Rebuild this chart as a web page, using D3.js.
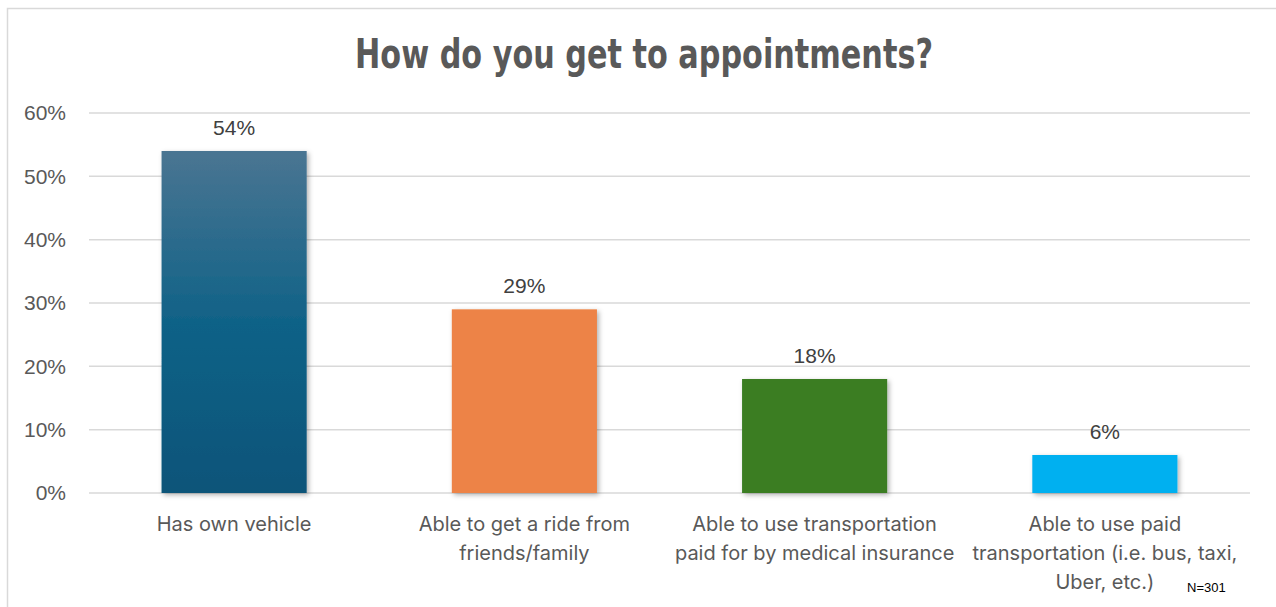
<!DOCTYPE html>
<html>
<head>
<meta charset="utf-8">
<script src="https://cdn.jsdelivr.net/npm/d3@7"></script>
<style>
  html, body { margin: 0; padding: 0; background: #fff; }
  svg { display: block; }
</style>
</head>
<body>
<svg id="chart" width="1276" height="607"></svg>
<script>
// Survey responses: how respondents get to appointments
const categories = [
  ["Has own vehicle"],
  ["Able to get a ride from", "friends/family"],
  ["Able to use transportation", "paid for by medical insurance"],
  ["Able to use paid", "transportation (i.e. bus, taxi,", "Uber, etc.)"]
];
const shares = [54, 29, 18, 6];
const barColors = ["url(#blueGrad)", "#ed8346", "#3b7d23", "#00b0f0"];
const yTicks = [0, 10, 20, 30, 40, 50, 60];
const titleText = "How do you get to appointments?";
const noteText = "N=301";

const W = 1276, H = 607;
const margin = { left: 89, right: 26, top: 113, bottom: 114 };
const svg = d3.select("#chart");

const defs = svg.append("defs");
const grad = defs.append("linearGradient")
  .attr("id", "blueGrad").attr("x1", 0).attr("y1", 0).attr("x2", 0).attr("y2", 1);
grad.append("stop").attr("offset", "0%").attr("stop-color", "#4a7592");
grad.append("stop").attr("offset", "50%").attr("stop-color", "#106287");
grad.append("stop").attr("offset", "100%").attr("stop-color", "#0a5479");

const shadow = defs.append("filter").attr("id", "barShadow")
  .attr("x", "-10%").attr("y", "-10%").attr("width", "130%").attr("height", "130%");
shadow.append("feDropShadow")
  .attr("dx", 2).attr("dy", 2).attr("stdDeviation", 2.5)
  .attr("flood-color", "#000").attr("flood-opacity", 0.3);

// Chart frame
svg.append("rect")
  .attr("x", 7.5).attr("y", 8.5).attr("width", W).attr("height", H)
  .attr("fill", "#fff").attr("stroke", "#d9d9d9").attr("stroke-width", 1.5);

const x = d3.scaleBand()
  .domain(d3.range(categories.length))
  .range([margin.left, W - margin.right])
  .paddingInner(0.5).paddingOuter(0.25);

const y = d3.scaleLinear()
  .domain([0, 60])
  .range([H - margin.bottom, margin.top]);

// Gridlines
svg.append("g")
  .selectAll("line").data(yTicks).join("line")
  .attr("x1", margin.left).attr("x2", W - margin.right)
  .attr("y1", d => y(d)).attr("y2", d => y(d))
  .attr("stroke", "#d9d9d9").attr("stroke-width", 1.5);

// Y axis labels
const yAxis = d3.axisLeft(y).tickValues(yTicks).tickFormat(d => d + "%").tickSize(0).tickPadding(23);
const yg = svg.append("g").attr("transform", `translate(${margin.left},0)`).call(yAxis);
yg.select(".domain").remove();
yg.selectAll("text")
  .attr("font-family", "'Liberation Sans', Arial, sans-serif")
  .attr("font-size", 21).attr("fill", "#595959");

// Bars
svg.append("g")
  .selectAll("rect").data(shares).join("rect")
  .attr("x", (d, i) => x(i))
  .attr("y", d => y(d))
  .attr("width", x.bandwidth())
  .attr("height", d => y(0) - y(d))
  .attr("fill", (d, i) => barColors[i])
  .attr("filter", "url(#barShadow)");

// Value labels
svg.append("g")
  .selectAll("text").data(shares).join("text")
  .attr("x", (d, i) => x(i) + x.bandwidth() / 2)
  .attr("y", d => y(d) - 16)
  .attr("text-anchor", "middle")
  .attr("font-family", "'Liberation Sans', Arial, sans-serif")
  .attr("font-size", 21).attr("fill", "#404040")
  .text(d => d + "%");

// Category labels
const catG = svg.append("g");
categories.forEach((lines, i) => {
  const t = catG.append("text")
    .attr("x", x(i) + x.bandwidth() / 2)
    .attr("y", 531)
    .attr("text-anchor", "middle")
    .attr("font-family", "Inter, 'Noto Sans', sans-serif")
    .attr("font-size", 20).attr("fill", "#595959");
  lines.forEach((ln, j) => {
    t.append("tspan")
      .attr("x", x(i) + x.bandwidth() / 2)
      .attr("dy", j === 0 ? 0 : 29)
      .text(ln);
  });
});

// Title
svg.append("text")
  .attr("x", 644).attr("y", 68)
  .attr("text-anchor", "middle")
  .attr("font-family", "'DejaVu Sans Condensed', 'DejaVu Sans', sans-serif")
  .attr("font-weight", "bold")
  .attr("font-size", 40).attr("fill", "#595959")
  .attr("textLength", 578).attr("lengthAdjust", "spacingAndGlyphs")
  .text(titleText);

// Sample size note
svg.append("text")
  .attr("x", 1187).attr("y", 592)
  .attr("font-family", "'Liberation Sans', Arial, sans-serif")
  .attr("font-size", 13).attr("fill", "#000")
  .text(noteText);
</script>
</body>
</html>
